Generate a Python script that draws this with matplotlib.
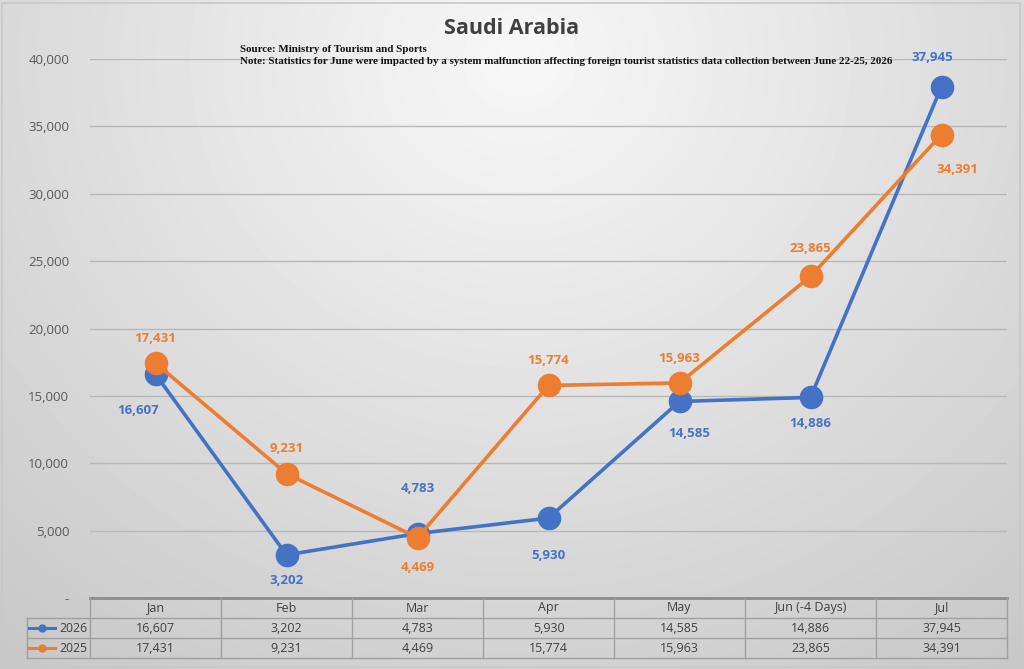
import numpy as np
import matplotlib
matplotlib.use("Agg")
from matplotlib import pyplot as plt
from matplotlib.lines import Line2D
from matplotlib.patches import Rectangle

months = ["Jan", "Feb", "Mar", "Apr", "May", "Jun (-4 Days)", "Jul"]
v2026 = [16607, 3202, 4783, 5930, 14585, 14886, 37945]
v2025 = [17431, 9231, 4469, 15774, 15963, 23865, 34391]
yticks = [0, 5000, 10000, 15000, 20000, 25000, 30000, 35000, 40000]

BLUE = "#4472C4"
ORANGE = "#ED7D31"
W, H = 1024, 669

# label offsets in pixels (dx, dy, dy>0 = down)
off2026 = [(-17, 36), (0, 26), (0, -45), (0, 37), (10, 32), (0, 26), (-9, -29)]
off2025 = [(0, -25), (0, -25), (0, 30), (0, -25), (0, -24), (0, -28), (16, 35)]

fig = plt.figure(figsize=(W / 100, H / 100), dpi=100)

# background gradient
bg = fig.add_axes([0, 0, 1, 1], zorder=-10)
yy, xx = np.mgrid[0:H, 0:W]
r = np.sqrt(((xx - 520) / 700.0) ** 2 + ((yy - 60) / 650.0) ** 2)
shade = 0.97 - 0.16 * np.clip(r, 0, 1.3)
bg.imshow(shade, cmap="gray", vmin=0, vmax=1, aspect="auto", extent=[0, 1, 0, 1])
bg.set_axis_off()
fig.patches.append(Rectangle((2 / W, 2 / H), 1 - 6 / W, 1 - 5 / H, transform=fig.transFigure,
                             fill=False, edgecolor="#c8c8c8", linewidth=1.2))

x0, x1 = 90, 1007
ytop, ybot = 59, 598
ax = fig.add_axes([x0 / W, 1 - ybot / H, (x1 - x0) / W, (ybot - ytop) / H])
ax.set_facecolor("none")
ax.set_xlim(-0.5, len(months) - 0.5)
ax.set_ylim(0, 40000)
for s in ax.spines.values():
    s.set_visible(False)
ax.set_xticks([])
ax.set_yticks(yticks)
ax.set_yticklabels(["-" if v == 0 else f"{v:,}" for v in yticks], fontsize=9.5,
                   color="#595959", family="Open Sans")
ax.tick_params(axis="y", length=0, pad=15)
ax.grid(axis="y", color="#b8b8b8", linewidth=1.0)
ax.set_axisbelow(True)

xs = np.arange(len(months))
ax.plot(xs, v2026, color=BLUE, lw=2.6, marker="o", ms=16, zorder=3, clip_on=False)
ax.plot(xs, v2025, color=ORANGE, lw=2.6, marker="o", ms=16, zorder=4, clip_on=False)

for vals, offs, col in [(v2026, off2026, BLUE), (v2025, off2025, ORANGE)]:
    for x, v, (dx, dy) in zip(xs, vals, offs):
        ax.annotate(f"{v:,}", (x, v), xytext=(dx * 0.72, -dy * 0.72), textcoords="offset points",
                    ha="center", va="center", fontsize=9.5, fontweight="bold", color=col,
                    family="Open Sans", zorder=6, annotation_clip=False)

# title and notes
fig.text(512 / W, 1 - 28 / H, "Saudi Arabia", ha="center", va="center", fontsize=15.5,
         fontweight="bold", color="#404040", family="Open Sans")
fig.text(240 / W, 1 - 50 / H, "Source: Ministry of Tourism and Sports", ha="left", va="center",
         fontsize=7.9, fontweight="bold", family="Liberation Serif", color="#111111")
fig.text(240 / W, 1 - 62 / H,
         "Note: Statistics for June were impacted by a system malfunction affecting foreign tourist statistics data collection between June 22-25, 2026",
         ha="left", va="center", fontsize=7.9, fontweight="bold", family="Liberation Serif", color="#111111")

# data table
rows = [598, 618, 638, 658]
cw = (x1 - x0) / len(months)
lx = 27
gc = "#a0a0a0"
def fx(px):
    return px / W
def fy(py):
    return 1 - py / H
fig.add_artist(Line2D([fx(x0), fx(x1)], [fy(598), fy(598)], color="#8c8c8c", lw=2))
for py in rows[1:]:
    fig.add_artist(Line2D([fx(lx), fx(x1)], [fy(py), fy(py)], color=gc, lw=1))
for i in range(len(months) + 1):
    px = x0 + i * cw
    fig.add_artist(Line2D([fx(px), fx(px)], [fy(598), fy(658)], color=gc, lw=1))
fig.add_artist(Line2D([fx(lx), fx(lx)], [fy(618), fy(658)], color=gc, lw=1))

for i, m in enumerate(months):
    cx = fx(x0 + (i + 0.5) * cw)
    fig.text(cx, fy(608), m, ha="center", va="center", fontsize=9, color="#404040", family="Open Sans")
    fig.text(cx, fy(628), f"{v2026[i]:,}", ha="center", va="center", fontsize=9, color="#404040", family="Open Sans")
    fig.text(cx, fy(648), f"{v2025[i]:,}", ha="center", va="center", fontsize=9, color="#404040", family="Open Sans")

for name, col, py in [("2026", BLUE, 628), ("2025", ORANGE, 648)]:
    fig.add_artist(Line2D([fx(29), fx(42), fx(55)], [fy(py)] * 3, color=col, lw=2.2,
                          marker="o", markevery=[1], ms=5))
    fig.text(fx(87), fy(py), name, ha="right", va="center", fontsize=8.8,
             color="#404040", family="Open Sans")

fig.savefig("out.png", dpi=100)
